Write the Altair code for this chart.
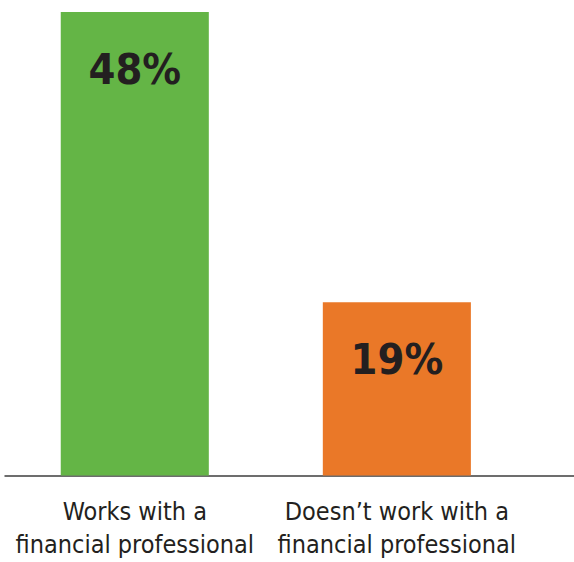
import altair as alt
import pandas as pd

categories = ["Works with a\nfinancial professional", "Doesn’t work with a\nfinancial professional"]
values = [48, 19]
labels = ["48%", "19%"]
colors = ["#64b546", "#ea7828"]

df = pd.DataFrame({"cat": categories, "val": values, "label": labels})

LABEL_FONT = "'Liberation Sans Narrow', 'DejaVu Sans Condensed', 'Roboto', sans-serif"

x = alt.X(
    "cat:N",
    sort=categories,
    title=None,
    scale=alt.Scale(paddingInner=0.435, paddingOuter=0.305, align=0.355),
    axis=alt.Axis(
        labelExpr="split(datum.value, '\\n')",
        labelAngle=0,
        labelFont=LABEL_FONT,
        labelFontSize=25,
        labelColor="#231f20",
        labelLineHeight=33,
        labelPadding=24,
        labelBaseline="top",
        ticks=False,
        domainColor="#3c3c3c",
        domainWidth=1.5,
        labelLimit=0,
    ),
)

yscale = alt.Scale(domain=[1.7, 48], nice=False, zero=False)

bars = alt.Chart(df).mark_bar(clip=True).encode(
    x=x,
    y=alt.Y("val:Q", scale=yscale, axis=None),
    color=alt.Color("cat:N", scale=alt.Scale(domain=categories, range=colors), legend=None),
)

text = alt.Chart(df).mark_text(
    font=LABEL_FONT,
    fontWeight="bold",
    fontSize=43,
    color="#231f20",
    baseline="alphabetic",
    dy=72,
).encode(
    x=alt.X("cat:N", sort=categories),
    y=alt.Y("val:Q", scale=yscale),
    text="label:N",
)

chart = (
    alt.layer(bars, text)
    .properties(
        width=570,
        height=463.5,
        autosize=alt.AutoSizeParams(type="none"),
        padding={"left": 4, "top": 12, "right": 0, "bottom": 87},
        background="white",
    )
    .configure_view(stroke=None)
)

chart.save("out.html", embed_options={"renderer": "svg", "actions": False})
